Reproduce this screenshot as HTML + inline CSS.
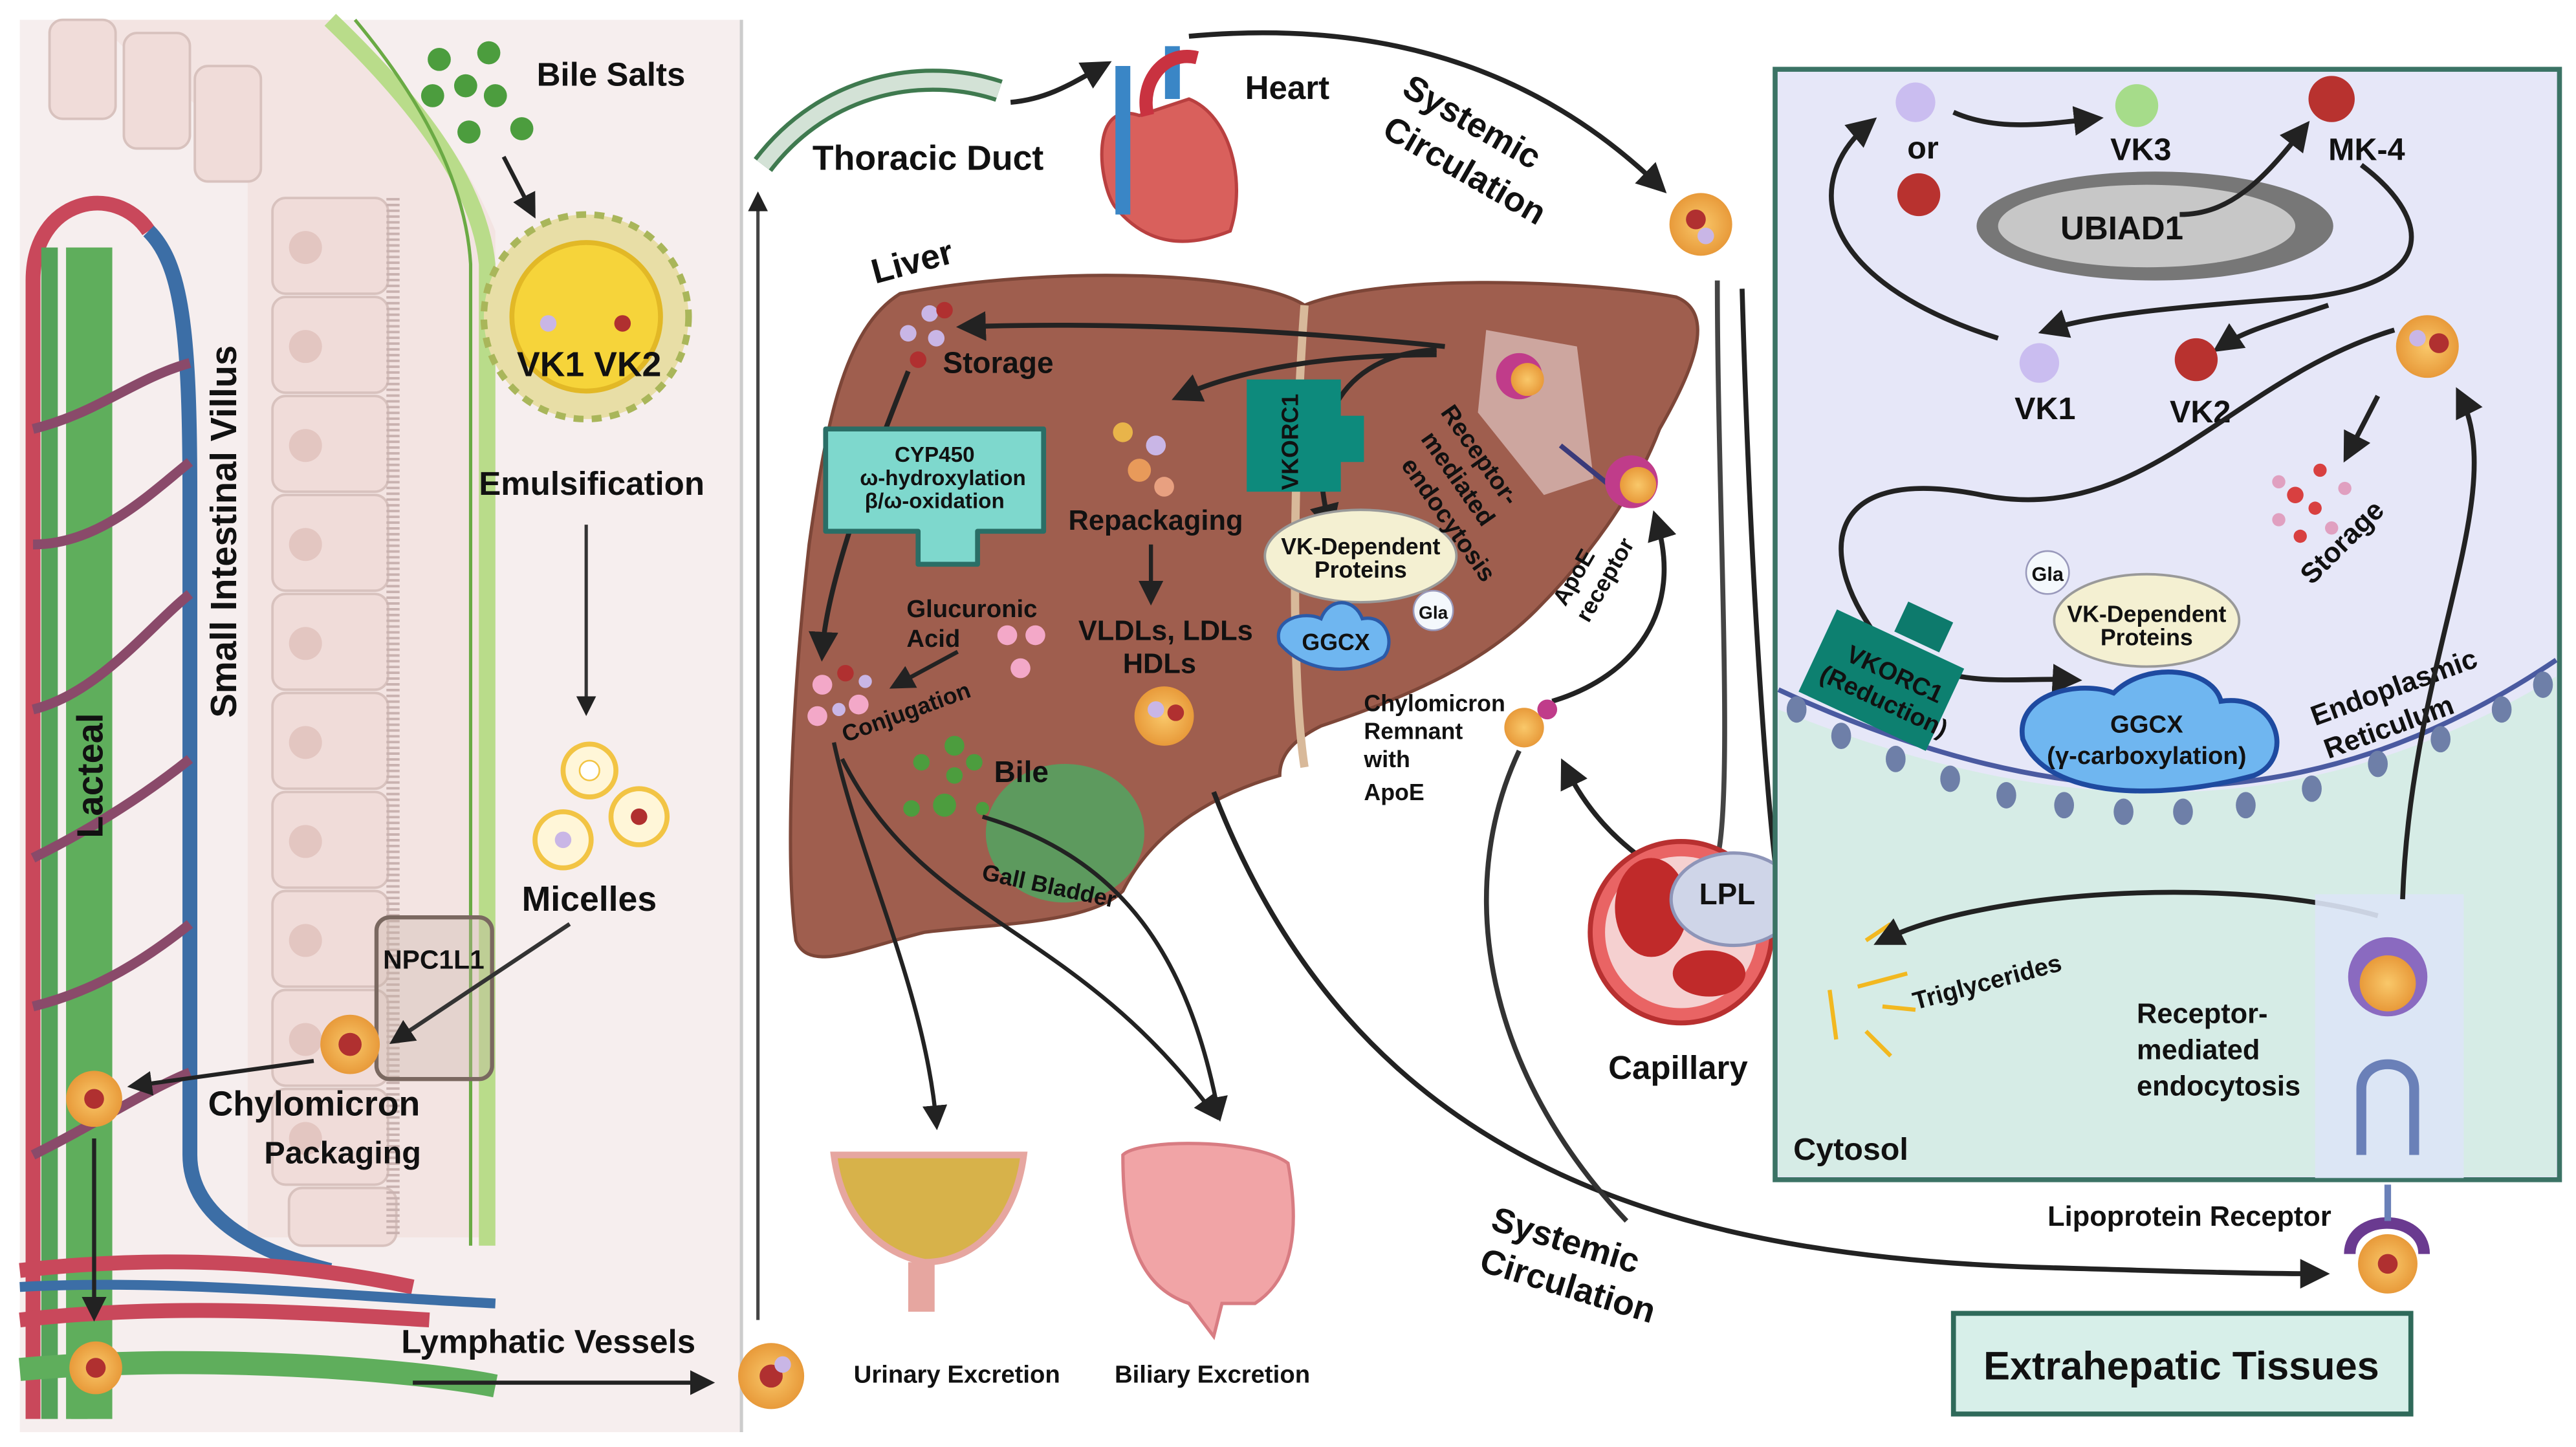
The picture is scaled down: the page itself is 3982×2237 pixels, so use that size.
<!DOCTYPE html>
<html><head><meta charset="utf-8"><style>
html,body{margin:0;padding:0;background:#fff;}
svg{display:block;}
text{font-family:"Liberation Sans Narrow","Liberation Sans",sans-serif;font-weight:bold;fill:#111;}
</style></head><body>
<svg width="3982" height="2237" viewBox="0 0 1560 877" preserveAspectRatio="none" xmlns="http://www.w3.org/2000/svg">
<defs>
<marker id="ah" markerWidth="6" markerHeight="6" refX="4" refY="3" orient="auto" markerUnits="strokeWidth"><path d="M0,0 L6,3 L0,6 z" fill="#222"/></marker>
<radialGradient id="chy"><stop offset="0" stop-color="#f9c86a"/><stop offset="1" stop-color="#e89a3a"/></radialGradient>
</defs>
<rect width="1560" height="877" fill="#fff"/>
<!-- LEFT PANEL -->
<rect x="12" y="12" width="436" height="856" fill="#f6eeee"/>
<line x1="449" y1="12" x2="449" y2="868" stroke="#ccc" stroke-width="2"/>
<!-- villus -->
<path d="M60,12 C80,40 120,60 150,90 L150,750 L300,750 L300,140 C280,90 240,40 200,12 Z" fill="#f3e4e2"/>
<path d="M200,12 C250,60 290,110 295,160 L295,755" fill="none" stroke="#b9dc8a" stroke-width="10"/>
<path d="M215,12 C255,60 282,110 285,160 L285,755" fill="none" stroke="#6aaa44" stroke-width="2"/>
<g fill="#f0dcd9" stroke="#d8c2be" stroke-width="1.5">
<rect x="165" y="120" width="70" height="58" rx="8"/><rect x="165" y="180" width="70" height="58" rx="8"/>
<rect x="165" y="240" width="70" height="58" rx="8"/><rect x="165" y="300" width="70" height="58" rx="8"/>
<rect x="165" y="360" width="70" height="58" rx="8"/><rect x="165" y="420" width="70" height="58" rx="8"/>
<rect x="165" y="480" width="70" height="58" rx="8"/><rect x="165" y="540" width="70" height="58" rx="8"/>
<rect x="165" y="600" width="70" height="58" rx="8"/><rect x="165" y="660" width="70" height="58" rx="8"/>
<rect x="175" y="720" width="65" height="35" rx="8"/>
<rect x="30" y="12" width="40" height="60" rx="8"/><rect x="75" y="20" width="40" height="70" rx="8"/><rect x="118" y="40" width="40" height="70" rx="8"/>
</g>
<g fill="#e3c6c1"><circle cx="185" cy="150" r="10"/><circle cx="185" cy="210" r="10"/><circle cx="185" cy="270" r="10"/><circle cx="185" cy="330" r="10"/><circle cx="185" cy="390" r="10"/><circle cx="185" cy="450" r="10"/><circle cx="185" cy="510" r="10"/><circle cx="185" cy="570" r="10"/><circle cx="185" cy="630" r="10"/><circle cx="185" cy="690" r="10"/></g>
<path d="M238,120 L238,750" stroke="#c9b2b0" stroke-width="8" stroke-dasharray="1.5 2"/>
<!-- vessels -->
<path d="M20,860 L20,170 C20,120 70,110 90,140" fill="none" stroke="#c9485b" stroke-width="9"/>
<path d="M90,140 C110,160 115,200 115,300 L115,700 C115,740 160,760 200,770" fill="none" stroke="#3c6ea6" stroke-width="9"/>
<path d="M30,150 L30,860 M48,160 L48,860" stroke="#55a35a" stroke-width="10"/>
<rect x="40" y="150" width="28" height="710" fill="#5fae5c"/>
<path d="M20,260 C60,250 80,230 115,220 M20,330 C60,330 90,300 115,280 M20,430 C60,420 90,380 115,360 M20,520 C60,500 90,480 115,460 M20,610 C60,600 90,580 115,560 M20,700 C60,680 90,660 115,650" fill="none" stroke="#8a4a6a" stroke-width="6"/>
<path d="M12,770 C100,760 180,765 250,780 M12,800 C100,790 180,795 260,800" fill="none" stroke="#c9485b" stroke-width="9"/>
<path d="M12,780 C100,775 200,785 300,790" fill="none" stroke="#3c6ea6" stroke-width="6"/>
<path d="M12,830 C120,820 250,830 300,840" fill="none" stroke="#5fae5c" stroke-width="14"/>
<text transform="translate(62,508) rotate(-90)" font-size="22">Lacteal</text>
<text transform="translate(143,435) rotate(-90)" font-size="22">Small Intestinal Villus</text>
<!-- bile salts -->
<g fill="#4c9d3e"><circle cx="266" cy="36" r="7"/><circle cx="296" cy="32" r="7"/><circle cx="282" cy="52" r="7"/><circle cx="262" cy="58" r="7"/><circle cx="300" cy="58" r="7"/><circle cx="284" cy="80" r="7"/><circle cx="316" cy="78" r="7"/></g>
<text x="325" y="52" font-size="20">Bile Salts</text>
<line x1="305" y1="95" x2="322" y2="128" stroke="#222" stroke-width="2.5" marker-end="url(#ah)"/>
<circle cx="355" cy="192" r="62" fill="#e8dea6" stroke="#a9b65a" stroke-width="4" stroke-dasharray="6 5"/>
<circle cx="355" cy="192" r="45" fill="#f6d43a" stroke="#e2b826" stroke-width="3"/>
<circle cx="332" cy="196" r="5" fill="#c9b6e6"/><circle cx="377" cy="196" r="5" fill="#b03030"/>
<text x="313" y="228" font-size="21">VK1 VK2</text>
<text x="290" y="300" font-size="20">Emulsification</text>
<line x1="355" y1="318" x2="355" y2="430" stroke="#333" stroke-width="2" marker-end="url(#ah)"/>
<g><circle cx="357" cy="467" r="16" fill="#fff6d8" stroke="#f2c444" stroke-width="3"/><circle cx="357" cy="467" r="6" fill="#fff" stroke="#f2c444"/>
<circle cx="341" cy="509" r="17" fill="#fff6d8" stroke="#f2c444" stroke-width="3"/><circle cx="341" cy="509" r="5" fill="#c9b6e6"/>
<circle cx="387" cy="495" r="17" fill="#fff6d8" stroke="#f2c444" stroke-width="3"/><circle cx="387" cy="495" r="5" fill="#b03030"/></g>
<text x="316" y="552" font-size="21">Micelles</text>
<rect x="228" y="556" width="70" height="98" rx="8" fill="rgba(200,180,170,0.35)" stroke="#7a6860" stroke-width="2.5"/>
<text x="232" y="587" font-size="16">NPC1L1</text>
<line x1="345" y1="560" x2="240" y2="630" stroke="#333" stroke-width="2.5" marker-end="url(#ah)"/>
<circle cx="212" cy="633" r="18" fill="url(#chy)"/><circle cx="212" cy="633" r="7" fill="#b03030"/>
<line x1="190" y1="643" x2="82" y2="658" stroke="#222" stroke-width="2.5" marker-end="url(#ah)"/>
<circle cx="57" cy="666" r="17" fill="url(#chy)"/><circle cx="57" cy="666" r="6" fill="#b03030"/>
<line x1="57" y1="690" x2="57" y2="796" stroke="#222" stroke-width="2.5" marker-end="url(#ah)"/>
<circle cx="58" cy="829" r="16" fill="url(#chy)"/><circle cx="58" cy="829" r="6" fill="#b03030"/>
<text x="126" y="676" font-size="21">Chylomicron</text>
<text x="160" y="705" font-size="19">Packaging</text>
<text x="243" y="820" font-size="20">Lymphatic Vessels</text>
<line x1="250" y1="838" x2="428" y2="838" stroke="#222" stroke-width="2.5" marker-end="url(#ah)"/>
<circle cx="467" cy="834" r="20" fill="url(#chy)"/><circle cx="467" cy="834" r="7" fill="#b03030"/><circle cx="474" cy="827" r="5" fill="#c9b6e6"/>
<line x1="459" y1="800" x2="459" y2="120" stroke="#444" stroke-width="2" marker-end="url(#ah)"/>
<!-- thoracic duct -->
<path d="M462,100 C500,50 560,40 605,55" fill="none" stroke="#3f7a4f" stroke-width="14"/>
<path d="M462,100 C500,50 560,40 605,55" fill="none" stroke="#d3e2d6" stroke-width="9"/>
<text x="492" y="103" font-size="21">Thoracic Duct</text>
<path d="M612,62 C635,60 650,50 668,40" fill="none" stroke="#222" stroke-width="3" marker-end="url(#ah)"/>
<!-- heart -->
<path d="M690,70 C660,60 665,110 675,125 C695,150 720,150 745,140 C755,110 745,70 720,60 Z" fill="#d9605c" stroke="#b94040" stroke-width="2"/>
<path d="M680,40 L680,130 M710,28 L710,60" stroke="#3a86c6" stroke-width="9" fill="none"/>
<path d="M695,70 C690,50 705,30 725,35" stroke="#c93240" stroke-width="8" fill="none"/>
<text x="754" y="60" font-size="20">Heart</text>
<path d="M720,22 C850,10 940,50 1005,113" fill="none" stroke="#222" stroke-width="3" marker-end="url(#ah)"/>
<text transform="translate(848,57) rotate(30)" font-size="21">Systemic</text>
<text transform="translate(836,82) rotate(30)" font-size="21">Circulation</text>
<circle cx="1030" cy="136" r="19" fill="url(#chy)"/><circle cx="1027" cy="133" r="6" fill="#b03030"/><circle cx="1033" cy="143" r="5" fill="#c9b6e6"/>
<!-- liver -->
<text transform="translate(530,172) rotate(-15)" font-size="21">Liver</text>
<path d="M545,178 C640,160 760,165 790,185 C840,165 960,170 1015,180 C1040,190 1025,225 1005,260 C990,300 960,340 930,370 C900,400 860,420 800,440 C780,450 775,460 775,470 C740,480 700,500 680,540 C660,560 600,560 560,565 C520,575 490,590 482,570 C475,520 480,420 490,330 C500,260 510,200 545,178 Z" fill="#9f5e4e" stroke="#7d4638" stroke-width="2"/>
<path d="M790,185 C785,250 780,400 790,465" stroke="#d8b99a" stroke-width="5" fill="none"/>
<ellipse cx="645" cy="505" rx="48" ry="42" fill="#5d9a5e"/>
<g fill="#c9b6e6"><circle cx="550" cy="202" r="5"/><circle cx="563" cy="190" r="5"/><circle cx="567" cy="205" r="5"/></g>
<g fill="#b03030"><circle cx="572" cy="188" r="5"/><circle cx="556" cy="218" r="5"/></g>
<text x="571" y="226" font-size="18">Storage</text>
<path d="M875,210 C780,200 680,195 585,198" fill="none" stroke="#222" stroke-width="3" marker-end="url(#ah)"/>
<path d="M870,215 C820,215 760,220 715,240" fill="none" stroke="#222" stroke-width="3" marker-end="url(#ah)"/>
<path d="M870,212 C810,215 790,260 805,318" fill="none" stroke="#222" stroke-width="3" marker-end="url(#ah)"/>
<path d="M550,225 C520,300 500,360 498,395" fill="none" stroke="#222" stroke-width="3" marker-end="url(#ah)"/>
<path d="M500,260 L632,260 L632,322 L592,322 L592,342 L556,342 L556,322 L500,322 Z" fill="#7ed8cd" stroke="#2a6e66" stroke-width="3" stroke-linejoin="round"/>
<text x="566" y="280" font-size="13" text-anchor="middle">CYP450</text>
<text x="571" y="294" font-size="13" text-anchor="middle">ω-hydroxylation</text>
<text x="566" y="308" font-size="13" text-anchor="middle">β/ω-oxidation</text>
<g><circle cx="680" cy="262" r="6" fill="#e8b44a"/><circle cx="700" cy="270" r="6" fill="#c9b6e6"/><circle cx="690" cy="285" r="7" fill="#e89a5a"/><circle cx="705" cy="295" r="6" fill="#e8a080"/></g>
<text x="647" y="321" font-size="17">Repackaging</text>
<line x1="697" y1="330" x2="697" y2="362" stroke="#222" stroke-width="2.5" marker-end="url(#ah)"/>
<text x="653" y="388" font-size="17">VLDLs, LDLs</text>
<text x="680" y="408" font-size="17">HDLs</text>
<circle cx="705" cy="434" r="18" fill="url(#chy)"/><circle cx="712" cy="432" r="5" fill="#b03030"/><circle cx="700" cy="430" r="5" fill="#c9b6e6"/>
<text x="549" y="374" font-size="15">Glucuronic</text>
<text x="549" y="392" font-size="15">Acid</text>
<g fill="#f3a8c8"><circle cx="610" cy="385" r="6"/><circle cx="627" cy="385" r="6"/><circle cx="618" cy="405" r="6"/></g>
<line x1="580" y1="395" x2="543" y2="415" stroke="#222" stroke-width="2.5" marker-end="url(#ah)"/>
<g fill="#f3a8c8"><circle cx="498" cy="415" r="6"/><circle cx="520" cy="427" r="6"/><circle cx="495" cy="434" r="6"/></g>
<g fill="#c9b6e6"><circle cx="524" cy="413" r="4"/><circle cx="508" cy="430" r="4"/></g><circle cx="512" cy="408" r="5" fill="#b03030"/>
<text transform="translate(512,450) rotate(-20)" font-size="14">Conjugation</text>
<g fill="#4c9d3e"><circle cx="578" cy="452" r="6"/><circle cx="558" cy="462" r="5"/><circle cx="578" cy="470" r="5"/><circle cx="590" cy="462" r="5"/><circle cx="572" cy="488" r="7"/><circle cx="552" cy="490" r="5"/><circle cx="595" cy="490" r="4"/></g>
<text x="602" y="474" font-size="18">Bile</text>
<text transform="translate(594,533) rotate(12)" font-size="14">Gall Bladder</text>
<path d="M755,230 L812,230 L812,252 L826,252 L826,280 L812,280 L812,298 L755,298 Z" fill="#0d8a7c"/>
<text transform="translate(786,297) rotate(-90)" font-size="14" fill="#111">VKORC1</text>
<ellipse cx="824" cy="337" rx="58" ry="28" fill="#f4f0d2" stroke="#999" stroke-width="1.5"/>
<text x="824" y="336" font-size="14" text-anchor="middle">VK-Dependent</text>
<text x="824" y="350" font-size="14" text-anchor="middle">Proteins</text>
<path d="M775,390 C770,375 790,370 800,375 C805,362 820,362 825,375 C840,372 845,390 838,398 C820,410 790,408 775,390 Z" fill="#6fb6f0" stroke="#2b5aa8" stroke-width="2"/>
<text x="809" y="394" font-size="14" text-anchor="middle">GGCX</text>
<circle cx="868" cy="370" r="12" fill="#f4f8fc" stroke="#99b"/><text x="868" y="375" font-size="11" text-anchor="middle">Gla</text>
<path d="M900,200 L955,210 L965,290 L935,300 L895,250 Z" fill="#d8b8b4" opacity="0.8"/>
<circle cx="920" cy="228" r="14" fill="#c03c8a"/><circle cx="925" cy="230" r="10" fill="url(#chy)"/>
<line x1="945" y1="270" x2="982" y2="300" stroke="#3a3a7a" stroke-width="3"/>
<circle cx="988" cy="292" r="16" fill="#c03c8a"/><circle cx="992" cy="294" r="11" fill="url(#chy)"/>
<text transform="translate(872,250) rotate(55)" font-size="15">Receptor-</text>
<text transform="translate(860,266) rotate(55)" font-size="15">mediated</text>
<text transform="translate(848,282) rotate(55)" font-size="15">endocytosis</text>
<text transform="translate(948,368) rotate(-60)" font-size="14">ApoE</text>
<text transform="translate(962,378) rotate(-60)" font-size="14">receptor</text>
<path d="M940,425 C990,410 1020,370 1003,315" fill="none" stroke="#222" stroke-width="3" marker-end="url(#ah)"/>
<circle cx="923" cy="441" r="12" fill="url(#chy)"/><circle cx="937" cy="430" r="6" fill="#c03c8a"/>
<text x="826" y="431" font-size="14">Chylomicron</text><text x="826" y="448" font-size="14">Remnant</text><text x="826" y="465" font-size="14">with</text><text x="826" y="485" font-size="14">ApoE</text>
<path d="M1025,540 C990,520 965,500 948,465" fill="none" stroke="#222" stroke-width="3" marker-end="url(#ah)"/>
<!-- excretion arrows -->
<path d="M505,450 C520,520 560,600 567,680" fill="none" stroke="#222" stroke-width="2.5" marker-end="url(#ah)"/>
<path d="M510,460 C560,560 650,560 735,675" fill="none" stroke="#222" stroke-width="2.5" marker-end="url(#ah)"/>
<path d="M595,495 C680,520 720,580 738,675" fill="none" stroke="#222" stroke-width="2.5" marker-end="url(#ah)"/>
<path d="M505,700 C510,740 535,760 560,765 C590,765 615,740 620,700 Z" fill="#d7b24a" stroke="#e6a6a0" stroke-width="4"/>
<rect x="550" y="765" width="16" height="30" fill="#e6a6a0"/>
<path d="M680,700 C690,690 760,690 780,705 C790,760 775,780 760,790 L740,790 L735,810 L720,790 C690,780 680,750 680,700 Z" fill="#f1a4a6" stroke="#d87c82" stroke-width="2"/>
<text x="517" y="838" font-size="15">Urinary Excretion</text>
<text x="675" y="838" font-size="15">Biliary Excretion</text>
<!-- long systemic -->
<path d="M735,480 C820,700 1000,760 1230,768 C1300,770 1360,772 1405,772" fill="none" stroke="#222" stroke-width="3" marker-end="url(#ah)"/>
<path d="M920,455 C880,540 900,650 985,740" fill="none" stroke="#333" stroke-width="3"/>
<text transform="translate(902,745) rotate(17)" font-size="21">Systemic</text>
<text transform="translate(895,770) rotate(17)" font-size="21">Circulation</text>
<path d="M1040,170 C1040,300 1050,480 1040,520" fill="none" stroke="#444" stroke-width="3"/>
<path d="M1055,175 C1060,350 1070,500 1080,560 C1085,575 1100,578 1120,578" fill="none" stroke="#222" stroke-width="3" marker-end="url(#ah)"/>
<!-- capillary -->
<circle cx="1018" cy="565" r="55" fill="#e96464" stroke="#b83030" stroke-width="3"/>
<circle cx="1018" cy="565" r="46" fill="#f5d0d0"/>
<ellipse cx="1000" cy="550" rx="22" ry="30" fill="#c02a2a"/><ellipse cx="1035" cy="590" rx="22" ry="14" fill="#c02a2a"/>
<ellipse cx="1050" cy="545" rx="38" ry="28" fill="#cfd5e8" stroke="#8e95b8" stroke-width="2"/>
<text x="1046" y="548" font-size="18" text-anchor="middle">LPL</text>
<text x="974" y="654" font-size="20">Capillary</text>
<!-- RIGHT BOX -->
<rect x="1075" y="42" width="475" height="673" fill="#e6e7f8" stroke="#3b7365" stroke-width="3"/>
<path d="M1077,430 C1250,500 1400,500 1548,410 L1548,713 L1077,713 Z" fill="#d6ece6"/>
<path d="M1077,418 C1250,498 1400,500 1548,400" fill="none" stroke="#4a5aa0" stroke-width="3"/>
<g fill="#6e7fa8"><ellipse cx="1088" cy="430" rx="6" ry="8"/><ellipse cx="1115" cy="446" rx="6" ry="8"/><ellipse cx="1148" cy="460" rx="6" ry="8"/><ellipse cx="1181" cy="472" rx="6" ry="8"/><ellipse cx="1215" cy="482" rx="6" ry="8"/><ellipse cx="1250" cy="488" rx="6" ry="8"/><ellipse cx="1286" cy="492" rx="6" ry="8"/><ellipse cx="1322" cy="492" rx="6" ry="8"/><ellipse cx="1360" cy="488" rx="6" ry="8"/><ellipse cx="1400" cy="478" rx="6" ry="8"/><ellipse cx="1440" cy="463" rx="6" ry="8"/><ellipse cx="1478" cy="448" rx="6" ry="8"/><ellipse cx="1515" cy="430" rx="6" ry="8"/><ellipse cx="1540" cy="415" rx="6" ry="8"/></g>
<circle cx="1160" cy="62" r="12" fill="#cabdf0"/><text x="1155" y="96" font-size="19">or</text>
<circle cx="1162" cy="118" r="13" fill="#b8322f"/>
<circle cx="1294" cy="64" r="13" fill="#a6dc8a"/><text x="1278" y="97" font-size="19">VK3</text>
<circle cx="1412" cy="60" r="14" fill="#b8322f"/><text x="1410" y="97" font-size="19">MK-4</text>
<path d="M1183,68 C1210,80 1240,75 1268,72" fill="none" stroke="#222" stroke-width="3" marker-end="url(#ah)"/>
<ellipse cx="1305" cy="137" rx="108" ry="33" fill="#777"/>
<ellipse cx="1300" cy="137" rx="90" ry="25" fill="#c7c7c7"/>
<text x="1285" y="145" font-size="20" text-anchor="middle">UBIAD1</text>
<path d="M1320,130 C1350,130 1370,110 1395,78" fill="none" stroke="#222" stroke-width="3" marker-end="url(#ah)"/>
<path d="M1430,100 C1470,130 1480,170 1400,180 C1330,185 1270,190 1240,200" fill="none" stroke="#222" stroke-width="3" marker-end="url(#ah)"/>
<path d="M1410,185 C1380,195 1360,200 1345,210" fill="none" stroke="#222" stroke-width="3" marker-end="url(#ah)"/>
<circle cx="1235" cy="220" r="12" fill="#cabdf0"/><text x="1220" y="254" font-size="19">VK1</text>
<circle cx="1330" cy="218" r="13" fill="#b8322f"/><text x="1314" y="256" font-size="19">VK2</text>
<path d="M1210,205 C1100,170 1090,110 1132,75" fill="none" stroke="#222" stroke-width="3" marker-end="url(#ah)"/>
<path d="M1450,200 C1350,230 1300,320 1200,300 C1100,280 1100,340 1140,390 C1180,420 1220,410 1255,412" fill="none" stroke="#222" stroke-width="3" marker-end="url(#ah)"/>
<circle cx="1470" cy="210" r="19" fill="url(#chy)"/><circle cx="1477" cy="208" r="6" fill="#b03030"/><circle cx="1464" cy="205" r="5" fill="#c9b6e6"/>
<line x1="1440" y1="240" x2="1422" y2="275" stroke="#222" stroke-width="3" marker-end="url(#ah)"/>
<g fill="#d84040"><circle cx="1405" cy="285" r="4"/><circle cx="1390" cy="300" r="5"/><circle cx="1402" cy="308" r="4"/><circle cx="1393" cy="325" r="4"/></g>
<g fill="#e0a0c0"><circle cx="1380" cy="292" r="4"/><circle cx="1420" cy="296" r="4"/><circle cx="1380" cy="315" r="4"/><circle cx="1412" cy="320" r="4"/></g>
<text transform="translate(1400,355) rotate(-45)" font-size="17">Storage</text>
<rect x="1150" y="370" width="30" height="20" fill="#0d7a6c" transform="rotate(25 1165 380)"/>
<rect x="1097" y="385" width="85" height="55" fill="#0d8070" transform="rotate(25 1140 412)"/>
<text transform="translate(1117,400) rotate(25)" font-size="15">VKORC1</text>
<text transform="translate(1101,412) rotate(25)" font-size="15">(Reduction)</text>
<circle cx="1240" cy="347" r="13" fill="#f4f8fc" stroke="#99b"/><text x="1240" y="352" font-size="12" text-anchor="middle">Gla</text>
<ellipse cx="1300" cy="376" rx="56" ry="28" fill="#f4f0d2" stroke="#999" stroke-width="1.5"/>
<text x="1300" y="377" font-size="14" text-anchor="middle">VK-Dependent</text>
<text x="1300" y="391" font-size="14" text-anchor="middle">Proteins</text>
<path d="M1225,448 C1220,420 1260,412 1280,420 C1300,400 1340,405 1345,425 C1380,420 1390,460 1365,470 C1310,485 1240,485 1225,448 Z" fill="#6fb6f0" stroke="#1e4aa0" stroke-width="3"/>
<text x="1300" y="444" font-size="15" text-anchor="middle">GGCX</text>
<text x="1300" y="463" font-size="15" text-anchor="middle">(γ-carboxylation)</text>
<text transform="translate(1402,440) rotate(-20)" font-size="17">Endoplasmic</text>
<text transform="translate(1410,460) rotate(-20)" font-size="17">Reticulum</text>
<g stroke="#f2b820" stroke-width="2.5"><line x1="1108" y1="600" x2="1112" y2="630"/><line x1="1125" y1="598" x2="1155" y2="590"/><line x1="1130" y1="570" x2="1145" y2="560"/><line x1="1130" y1="625" x2="1145" y2="640"/><line x1="1140" y1="610" x2="1160" y2="612"/></g>
<text transform="translate(1160,612) rotate(-15)" font-size="15">Triglycerides</text>
<path d="M1440,555 C1350,530 1200,540 1140,570" fill="none" stroke="#222" stroke-width="3" marker-end="url(#ah)"/>
<rect x="1402" y="542" width="90" height="172" fill="#dde6f6" opacity="0.9"/>
<path d="M1455,545 C1460,400 1520,300 1490,240" fill="none" stroke="#222" stroke-width="3" marker-end="url(#ah)"/>
<circle cx="1446" cy="592" r="24" fill="#8a6ac0"/><circle cx="1446" cy="596" r="17" fill="url(#chy)"/>
<path d="M1430,700 L1430,660 C1430,640 1462,640 1462,660 L1462,700" fill="none" stroke="#6a80b8" stroke-width="6"/>
<text x="1294" y="620" font-size="17">Receptor-</text><text x="1294" y="642" font-size="17">mediated</text><text x="1294" y="664" font-size="17">endocytosis</text>
<text x="1086" y="703" font-size="19">Cytosol</text>
<text x="1240" y="743" font-size="17">Lipoprotein  Receptor</text>
<path d="M1423,760 C1423,735 1468,735 1468,760" fill="none" stroke="#6a3a90" stroke-width="7"/>
<line x1="1446" y1="718" x2="1446" y2="740" stroke="#6a80b8" stroke-width="4"/>
<circle cx="1446" cy="766" r="18" fill="url(#chy)"/><circle cx="1446" cy="766" r="6" fill="#b03030"/>
<rect x="1183" y="796" width="277" height="61" fill="#d7efe9" stroke="#2f6a5a" stroke-width="3"/>
<text x="1321" y="836" font-size="24" text-anchor="middle">Extrahepatic Tissues</text>
</svg>
</body></html>
